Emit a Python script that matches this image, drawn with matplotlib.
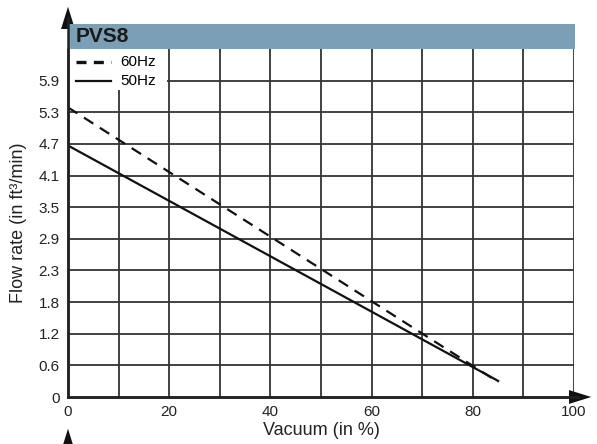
import matplotlib.pyplot as plt
from matplotlib.patches import Rectangle
from matplotlib import font_manager

names = {f.name for f in font_manager.fontManager.ttflist}
font = 'Liberation Sans Narrow' if 'Liberation Sans Narrow' in names else 'Liberation Sans'
plt.rcParams['font.family'] = [font, 'DejaVu Sans']

# data
vacuum = [0, 85]
flow_60hz = [5.40, 0.28]
flow_50hz = [4.69, 0.30]
ytick_labels = ['0', '0.6', '1.2', '1.8', '2.3', '2.9', '3.5', '4.1', '4.7', '5.3', '5.9']
xtick_labels = ['0', '20', '40', '60', '80', '100']
step = 0.59

fig = plt.figure(figsize=(5.97, 4.44), dpi=100)
ax = fig.add_axes([68/597, 1-397/444, (574-68)/597, (397-49)/444])

ax.set_xlim(0, 100)
ax.set_ylim(0, 11*step)
ax.set_xticks(range(0, 101, 20))
ax.set_xticklabels(xtick_labels)
yt = [i*step for i in range(11)]
ax.set_yticks(yt)
ax.set_yticklabels(ytick_labels)
ax.tick_params(length=0, labelsize=11, pad=6, colors='#222222')

# grid
for x in range(10, 101, 10):
    ax.axvline(x, color='#333333', lw=1.3, zorder=1)
for y in yt[1:]:
    ax.axhline(y, color='#333333', lw=1.3, zorder=1)

for s in ['top', 'right']:
    ax.spines[s].set_visible(False)
for s in ['left', 'bottom']:
    ax.spines[s].set_linewidth(1.8)
    ax.spines[s].set_color('#222222')

# white box behind legend
ax.add_patch(Rectangle((0, 6.49 - 0.76), 19.6, 0.76, facecolor='white', edgecolor='none', zorder=2))

ax.plot(vacuum, flow_60hz, color='#111111', lw=1.6, ls=(0, (5, 3.5)), zorder=3)
ax.plot(vacuum, flow_50hz, color='#111111', lw=1.6, zorder=3)

# legend drawn by hand
ax.plot([1.5, 8.5], [6.49 - 0.24, 6.49 - 0.24], color='#111111', lw=2.4, ls=(0, (3, 2.2)), zorder=3)
ax.text(10.3, 6.49 - 0.24, '60Hz', fontsize=11, va='center', zorder=4)
ax.plot([1.5, 8.5], [5.9, 5.9], color='#111111', lw=1.6, zorder=3)
ax.text(10.3, 5.9, '50Hz', fontsize=11, va='center', zorder=4)

# header band
fig.patches.append(Rectangle((68/597, 1-49/444), (575-68)/597, 25/444, transform=fig.transFigure,
                             facecolor='#7ba0b6', edgecolor='none'))
fig.text(76/597, 1-37/444, 'PVS8', fontsize=15, fontweight='bold', va='center', color='#1a1a1a')

# axis arrows
arrow = dict(arrowstyle='-|>,head_length=0.8,head_width=0.25', color='#111111', lw=0, mutation_scale=20)
fig.add_artist(plt.Line2D([68/597, 68/597], [1-397/444, 1-18/444], color='#222222', lw=1.8))
ax.annotate('', xy=(68/597, 1-4/444), xytext=(68/597, 1-22/444), xycoords='figure fraction', arrowprops=arrow)
fig.add_artist(plt.Line2D([68/597, 578/597], [1-397/444, 1-397/444], color='#222222', lw=1.8))
ax.annotate('', xy=(594/597, 1-397/444), xytext=(574/597, 1-397/444), xycoords='figure fraction', arrowprops=arrow)
ax.annotate('', xy=(68/597, 1-426/444), xytext=(68/597, 1-443/444), xycoords='figure fraction', arrowprops=arrow)

ax.set_xlabel('Vacuum (in %)', fontsize=13, labelpad=2, color='#222222')
ax.set_ylabel('Flow rate (in ft³/min)', fontsize=13, labelpad=8, color='#222222')

plt.savefig('out.png', dpi=100)
